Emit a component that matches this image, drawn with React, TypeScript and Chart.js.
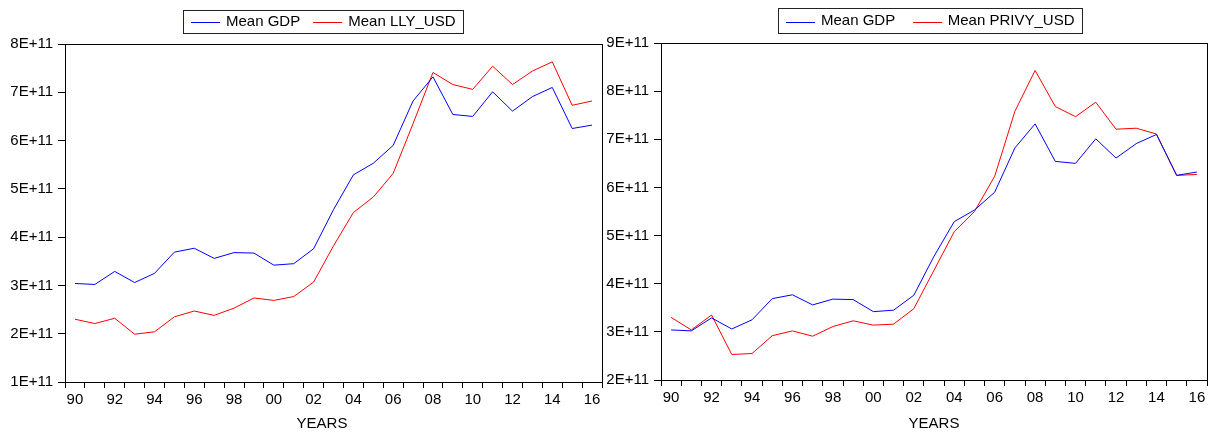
import React, { useEffect, useRef } from 'react';
import { Chart, registerables } from 'chart.js';

Chart.register(...registerables);

const yearLabels = ['90','91','92','93','94','95','96','97','98','99','00','01','02','03','04','05','06','07','08','09','10','11','12','13','14','15','16'];
const meanGdp = [3.04e11, 3.02e11, 3.29e11, 3.06e11, 3.25e11, 3.69e11, 3.77e11, 3.56e11, 3.68e11, 3.67e11, 3.42e11, 3.45e11, 3.76e11, 4.57e11, 5.29e11, 5.53e11, 5.90e11, 6.82e11, 7.32e11, 6.54e11, 6.50e11, 7.01e11, 6.61e11, 6.91e11, 7.10e11, 6.25e11, 6.32e11];
const meanLly = [2.30e11, 2.21e11, 2.32e11, 1.99e11, 2.04e11, 2.35e11, 2.47e11, 2.38e11, 2.53e11, 2.74e11, 2.69e11, 2.77e11, 3.07e11, 3.82e11, 4.51e11, 4.83e11, 5.32e11, 6.35e11, 7.41e11, 7.16e11, 7.06e11, 7.54e11, 7.16e11, 7.44e11, 7.63e11, 6.73e11, 6.82e11];
const meanPrivy = [3.30e11, 3.04e11, 3.35e11, 2.53e11, 2.55e11, 2.92e11, 3.02e11, 2.91e11, 3.11e11, 3.23e11, 3.14e11, 3.16e11, 3.48e11, 4.28e11, 5.08e11, 5.50e11, 6.23e11, 7.58e11, 8.43e11, 7.68e11, 7.47e11, 7.77e11, 7.21e11, 7.23e11, 7.11e11, 6.25e11, 6.27e11];
const leftYRange = [1e11, 8e11];
const rightYRange = [2e11, 9e11];
const xTitle = 'YEARS';
const BLUE = '#0000ff';
const RED = '#ff0000';

const FONT = '"Liberation Sans", Arial, sans-serif';
Chart.defaults.font.family = FONT;
Chart.defaults.font.size = 15;
Chart.defaults.color = '#000';

const framePlugin = {
  id: 'frame',
  afterDraw(chart: any, _args: any, opts: any) {
    const { ctx, chartArea: a } = chart;
    ctx.save();
    ctx.setLineDash([]);
    ctx.strokeStyle = '#000';
    ctx.lineWidth = 1;
    ctx.strokeRect(Math.round(a.left) + 0.5, Math.round(a.top) + 0.5, Math.round(a.right - a.left), Math.round(a.bottom - a.top));
    ctx.font = '15px ' + FONT;
    const colors = [BLUE, RED];
    const items = chart.data.datasets.map((d: any, i: number) => ({ label: d.label, color: colors[i], w: ctx.measureText(d.label).width }));
    const padL = 8, lineLen = 29, gapLT = 6, padR = 7.5;
    let sum = 0;
    items.forEach((it: any) => { sum += lineLen + gapLT + it.w; });
    const width = opts.legendWidth;
    const gapItem = width - padL - padR - sum;
    const x0 = opts.legendLeft;
    const top = opts.legendTop, h = opts.legendHeight;
    ctx.strokeStyle = '#222';
    ctx.strokeRect(x0 + 0.5, top + 0.5, width, h);
    let x = x0 + padL;
    const ly = opts.legendLineY;
    items.forEach((it: any, i: number) => {
      if (i) x += gapItem;
      ctx.beginPath();
      ctx.strokeStyle = it.color;
      ctx.lineWidth = 1;
      ctx.moveTo(Math.round(x), ly);
      ctx.lineTo(Math.round(x) + lineLen, ly);
      ctx.stroke();
      x += lineLen + gapLT;
      ctx.fillStyle = '#000';
      ctx.textBaseline = 'middle';
      ctx.textAlign = 'left';
      ctx.fillText(it.label, x, top + h / 2 + 0.5);
      x += it.w;
    });
    ctx.textAlign = 'center';
    ctx.textBaseline = 'middle';
    ctx.fillStyle = '#000';
    ctx.fillText(xTitle, opts.titleX, opts.titleY);
    ctx.restore();
  },
};

function makeConfig(series: { label: string; data: number[]; color: string }[], yr: number[], geo: any) {
  return {
    type: 'line' as const,
    data: {
      labels: yearLabels,
      datasets: series.map((s) => ({
        label: s.label,
        data: s.data,
        borderColor: s.color,
        backgroundColor: s.color,
        borderWidth: 1,
        pointRadius: 0,
        tension: 0,
        fill: false,
      })),
    },
    options: {
      responsive: false,
      animation: false as const,
      layout: { padding: { left: 0, right: geo.padRight, top: geo.padTop, bottom: 0 } },
      plugins: {
        legend: { display: false },
        tooltip: { enabled: false },
        frame: geo.frame,
      },
      scales: {
        x: {
          type: 'category' as const,
          offset: true,
          grid: { display: true, offset: true, drawOnChartArea: false, drawTicks: true, tickLength: 6, color: '#000', tickColor: '#000' },
          border: { display: true, color: '#000' },
          ticks: {
            autoSkip: false,
            maxRotation: 0,
            minRotation: 0,
            padding: 3,
            color: '#000',
            font: { size: 15 },
            callback: (_v: any, i: number) => (i % 2 === 0 ? yearLabels[i] : ''),
          },
          afterFit: (s: any) => { s.height = geo.xHeight; },
        },
        y: {
          min: yr[0],
          max: yr[1],
          grid: { display: true, drawOnChartArea: false, drawTicks: true, tickLength: 7, color: '#000', tickColor: '#000' },
          border: { display: true, color: '#000' },
          ticks: {
            stepSize: 1e11,
            padding: 5,
            color: '#000',
            font: { size: 15 },
            callback: (v: any) => `${Math.round(Number(v) / 1e11)}E+11`,
          },
          afterFit: (s: any) => { s.width = geo.yWidth; },
        },
      },
    },
    plugins: [framePlugin],
  };
}

function Panel({ left, width, config }: { left: number; width: number; config: any }) {
  const ref = useRef<HTMLCanvasElement>(null);
  useEffect(() => {
    const chart = new Chart(ref.current as HTMLCanvasElement, config);
    return () => chart.destroy();
  }, []);
  return (
    <canvas
      ref={ref}
      width={width}
      height={433}
      style={{ position: 'absolute', left, top: 0, width, height: 433 }}
    />
  );
}

export default function App() {
  const leftCfg = makeConfig(
    [
      { label: 'Mean GDP', data: meanGdp, color: BLUE },
      { label: 'Mean LLY_USD', data: meanLly, color: RED },
    ],
    leftYRange,
    { padRight: 4, padTop: 44, xHeight: 51, yWidth: 65, frame: { legendLeft: 183, legendWidth: 280, legendTop: 10, legendHeight: 23, legendLineY: 22.5, titleX: 322, titleY: 424 } }
  );
  const rightCfg = makeConfig(
    [
      { label: 'Mean GDP', data: meanGdp, color: BLUE },
      { label: 'Mean PRIVY_USD', data: meanPrivy, color: RED },
    ],
    rightYRange,
    { padRight: 5, padTop: 43, xHeight: 53, yWidth: 61, frame: { legendLeft: 178, legendWidth: 304, legendTop: 8, legendHeight: 25, legendLineY: 22.5, titleX: 334, titleY: 424 } }
  );
  return (
    <div style={{ position: 'fixed', left: 0, top: 0, width: 1212, height: 433, background: '#fff' }}>
      <Panel left={0} width={606} config={leftCfg} />
      <Panel left={600} width={612} config={rightCfg} />
    </div>
  );
}
